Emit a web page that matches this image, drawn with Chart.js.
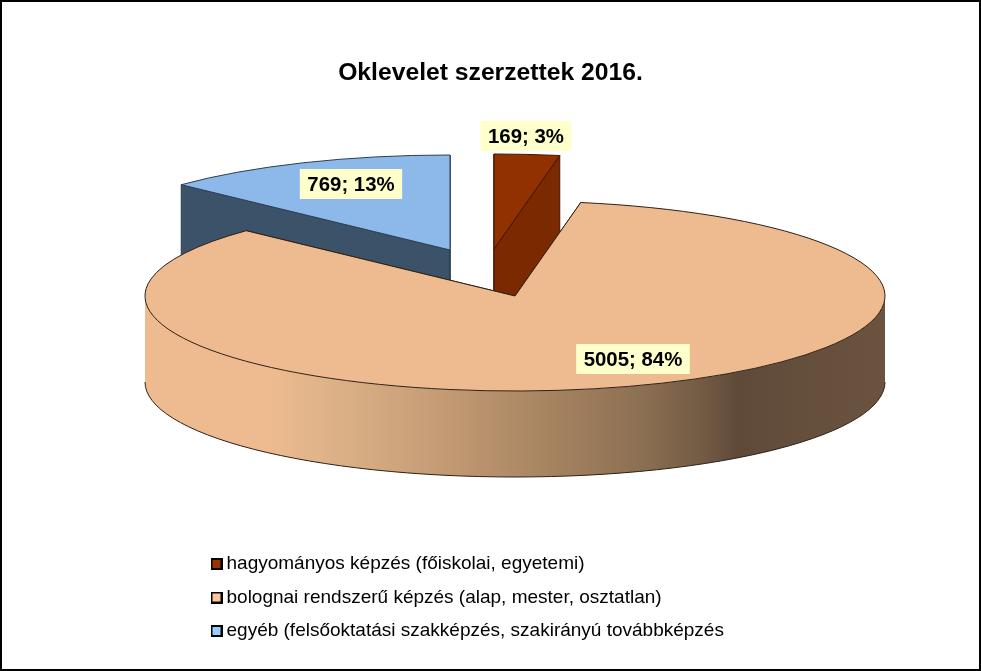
<!DOCTYPE html>
<html>
<head>
<meta charset="utf-8">
<style>
  html, body { margin: 0; padding: 0; background: #fff; }
  canvas { display: block; }
</style>
<script src="https://cdn.jsdelivr.net/npm/chart.js@4/dist/chart.umd.js"></script>
</head>
<body>
<canvas id="pie3d" width="981" height="671"></canvas>
<script>
var titleText = 'Oklevelet szerzettek 2016.';
var categories = [
    'hagyományos képzés (főiskolai, egyetemi)',
    'bolognai rendszerű képzés (alap, mester, osztatlan)',
    'egyéb (felsőoktatási szakképzés, szakirányú továbbképzés'
];
var values = [169, 5005, 769];

var topColors = ['#923100', '#EDBB8F', '#8DB9EA'];
var wallColors = ['#7A2900', '#EDBB8F', '#3C5269'];
var lineColors = ['#3F1500', '#2E2014', '#2B3D52'];
var legendColors = ['#993300', '#FFC799', '#99CCFF'];

// fake 3D: flat pie squashed on y, depth added by hand
var pieX = 515, pieY = 296, pieRadius = 370, pieSquash = 95 / 370, pieDepth = 86;
var shiftX = [-21, 0, -65];
var shiftY = [-47, 0, -46];
var drawOrder = [2, 0, 1];

var labelX = [526, 633, 351];
var labelY = [136, 359, 184];

function labelText(i) {
    var total = values.reduce(function(a, b) { return a + b; }, 0);
    return values[i] + '; ' + Math.round(values[i] / total * 100) + '%';
}

function legendBox(color) {
    var c = document.createElement('canvas');
    c.width = 12;
    c.height = 12;
    var g = c.getContext('2d');
    g.fillStyle = '#000';
    g.fillRect(0, 0, 12, 12);
    g.fillStyle = color;
    g.fillRect(2, 2, 8, 8);
    return c;
}

function rimPoint(x, y, angle) {
    return [x + Math.cos(angle) * pieRadius, y + Math.sin(angle) * pieRadius * pieSquash];
}

function drawFace(ctx, x, y, angle, fill, line) {
    var p = rimPoint(x, y, angle);
    ctx.beginPath();
    ctx.moveTo(x, y);
    ctx.lineTo(p[0], p[1]);
    ctx.lineTo(p[0], p[1] + pieDepth);
    ctx.lineTo(x, y + pieDepth);
    ctx.closePath();
    ctx.fillStyle = fill;
    ctx.fill();
    ctx.strokeStyle = line;
    ctx.stroke();
}

function drawOuterWall(ctx, x, y, start, end, line) {
    var a = Math.max(start, 0), b = Math.min(end, Math.PI);
    if (b <= a) return;
    var ry = pieRadius * pieSquash;
    var grad = ctx.createLinearGradient(x - pieRadius, 0, x + pieRadius, 0);
    grad.addColorStop(0, '#EDBB8F');
    grad.addColorStop(0.17, '#EDBB8F');
    grad.addColorStop(0.28, '#D8AE85');
    grad.addColorStop(0.43, '#BE9670');
    grad.addColorStop(0.55, '#A58360');
    grad.addColorStop(0.67, '#8C7053');
    grad.addColorStop(0.76, '#705843');
    grad.addColorStop(0.8, '#5F4A39');
    grad.addColorStop(1, '#6B5340');
    ctx.beginPath();
    ctx.ellipse(x, y, pieRadius, ry, 0, a, b);
    ctx.ellipse(x, y + pieDepth, pieRadius, ry, 0, b, a, true);
    ctx.closePath();
    ctx.fillStyle = grad;
    ctx.fill();
    ctx.beginPath();
    ctx.ellipse(x, y + pieDepth, pieRadius, ry, 0, b, a, true);
    ctx.strokeStyle = line;
    ctx.stroke();
}

var pie3d = {
    id: 'pie3d',
    afterLayout: function(chart) {
        // legend sits left of centre in one column
        chart.legend.left = 201.5;
        chart.legend.right = 801;
        chart.legend.top = 540;
    },
    beforeDatasetDraw: function(chart, args) {
        var ctx = chart.ctx;
        var arcs = args.meta.data;
        drawOrder.forEach(function(i) {
            var arc = arcs[i];
            var x = pieX + shiftX[i], y = pieY + shiftY[i];
            ctx.save();
            ctx.lineWidth = 1;
            drawFace(ctx, x, y, arc.startAngle, wallColors[i], lineColors[i]);
            drawFace(ctx, x, y, arc.endAngle, wallColors[i], lineColors[i]);
            drawOuterWall(ctx, x, y, arc.startAngle, arc.endAngle, lineColors[i]);
            ctx.restore();

            // top of the slice is the library's own arc
            arc.x = pieX + shiftX[i];
            arc.y = pieY + shiftY[i] / pieSquash;
            ctx.save();
            ctx.translate(0, pieY);
            ctx.scale(1, pieSquash);
            ctx.translate(0, -pieY);
            arc.draw(ctx, chart.chartArea);
            ctx.restore();

            ctx.save();
            ctx.beginPath();
            ctx.ellipse(x, y, pieRadius, pieRadius * pieSquash, 0, arc.startAngle, arc.endAngle);
            ctx.lineTo(x, y);
            ctx.closePath();
            ctx.lineWidth = 1;
            ctx.strokeStyle = lineColors[i];
            ctx.stroke();
            ctx.restore();
        });
        return false;
    },
    afterDraw: function(chart) {
        var ctx = chart.ctx;
        ctx.save();
        ctx.font = 'bold 20.4px "Liberation Sans"';
        ctx.textAlign = 'center';
        ctx.textBaseline = 'middle';
        values.forEach(function(v, i) {
            var text = labelText(i);
            var w = ctx.measureText(text).width + 15;
            ctx.fillStyle = '#FFFFCC';
            ctx.fillRect(labelX[i] - w / 2, labelY[i] - 15, w, 30);
            ctx.fillStyle = '#000';
            ctx.fillText(text, labelX[i], labelY[i] + 1);
        });
        ctx.strokeStyle = '#000';
        ctx.lineWidth = 2;
        ctx.strokeRect(1, 1, chart.width - 2, chart.height - 2);
        ctx.restore();
    }
};

new Chart(document.getElementById('pie3d').getContext('2d'), {
    type: 'pie',
    data: {
        labels: categories,
        datasets: [{
            data: values,
            backgroundColor: topColors,
            borderWidth: 0,
            radius: pieRadius
        }]
    },
    plugins: [pie3d],
    options: {
        responsive: false,
        animation: false,
        plugins: {
            tooltip: { enabled: false },
            title: {
                display: true,
                text: titleText,
                color: '#000',
                font: { family: '"Liberation Sans"', size: 24.7, weight: 'bold' },
                padding: { top: 58, bottom: 10 }
            },
            legend: {
                position: 'bottom',
                align: 'start',
                labels: {
                    color: '#000',
                    font: { family: '"Liberation Sans"', size: 19 },
                    usePointStyle: true,
                    pointStyleWidth: 1,
                    boxHeight: 12,
                    padding: 14.5,
                    generateLabels: function(chart) {
                        var items = Chart.overrides.pie.plugins.legend.labels.generateLabels(chart);
                        items.forEach(function(item, i) {
                            item.pointStyle = legendBox(legendColors[i]);
                        });
                        return items;
                    }
                }
            }
        }
    }
});
</script>
</body>
</html>
